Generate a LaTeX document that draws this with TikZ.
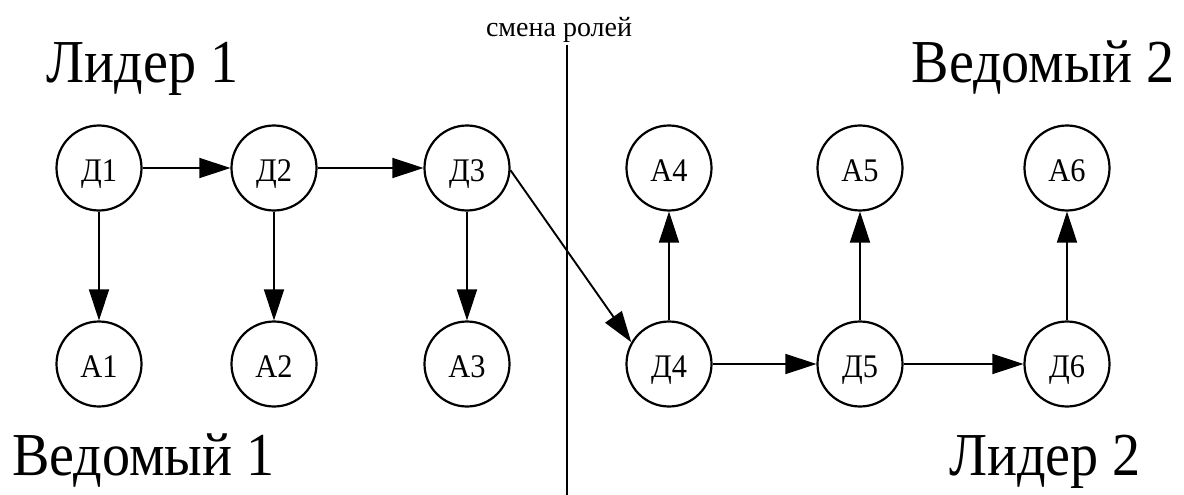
\documentclass[tikz,border=0pt]{standalone}
\usepackage{fontspec}
\setmainfont{Liberation Serif}
\newfontfamily\narrowserif{Liberation Serif}[FakeStretch=0.92]
\usetikzlibrary{arrows.meta}

\tikzset{
  vertex/.style={circle, draw, line width=2.2pt, minimum size=85pt, inner sep=0pt,
                 text height=22pt, text depth=0pt, font=\narrowserif\fontsize{33}{35}\selectfont},
  label shift/.style={yshift=-2.5pt},
  edge/.style={line width=1.9pt, -{Triangle[length=31pt,width=20pt]}},
  role/.style={anchor=base, inner sep=0pt, font=\narrowserif\fontsize{61}{63}\selectfont},
  divider/.style={line width=2.6pt},
  caption/.style={anchor=base, inner sep=0pt, font=\fontsize{28}{30}\selectfont}
}

\begin{document}
\begin{tikzpicture}[x=1pt,y=-1pt]
  \useasboundingbox (0,0) rectangle (1184,495);

  % role labels
  \node[role] (lead1) at (142.5,83) {Лидер 1};
  \node[role] (foll2) at (1043,82) {Ведомый 2};
  \node[role] (foll1) at (143.5,475) {Ведомый 1};
  \node[role] (lead2) at (1045,475) {Лидер 2};

  % role switch divider
  \node[caption] (swap) at (559,37) {смена ролей};
  \coordinate (divtop) at (567,45);
  \coordinate (divbot) at (567,495);
  \draw[divider] (divtop) -- (divbot);

  % first group: leaders on top, followers below
  \node[vertex] (D1) at (99,168) {\raisebox{-2.5pt}{Д1}};
  \node[vertex] (D2) at (274,168) {\raisebox{-2.5pt}{Д2}};
  \node[vertex] (D3) at (467,168) {\raisebox{-2.5pt}{Д3}};
  \node[vertex] (A1) at (99,364) {\raisebox{-2.5pt}{А1}};
  \node[vertex] (A2) at (274,364) {\raisebox{-2.5pt}{А2}};
  \node[vertex] (A3) at (467,364) {\raisebox{-2.5pt}{А3}};

  % second group: leaders below, followers on top
  \node[vertex] (A4) at (669,168) {\raisebox{-2.5pt}{А4}};
  \node[vertex] (A5) at (860,168) {\raisebox{-2.5pt}{А5}};
  \node[vertex] (A6) at (1067,168) {\raisebox{-2.5pt}{А6}};
  \node[vertex] (D4) at (669,364) {\raisebox{-2.5pt}{Д4}};
  \node[vertex] (D5) at (860,364) {\raisebox{-2.5pt}{Д5}};
  \node[vertex] (D6) at (1067,364) {\raisebox{-2.5pt}{Д6}};

  % leader chain
  \draw[edge] (D1.east) -- (D2.west);
  \draw[edge] (D2.east) -- (D3.west);
  \draw[edge] (D3.-3) -- (D4.150);
  \draw[edge] (D4.east) -- (D5.west);
  \draw[edge] (D5.east) -- (D6.west);

  % leader to follower
  \draw[edge] (D1.south) -- (A1.north);
  \draw[edge] (D2.south) -- (A2.north);
  \draw[edge] (D3.south) -- (A3.north);
  \draw[edge] (D4.north) -- (A4.south);
  \draw[edge] (D5.north) -- (A5.south);
  \draw[edge] (D6.north) -- (A6.south);
\end{tikzpicture}
\end{document}
